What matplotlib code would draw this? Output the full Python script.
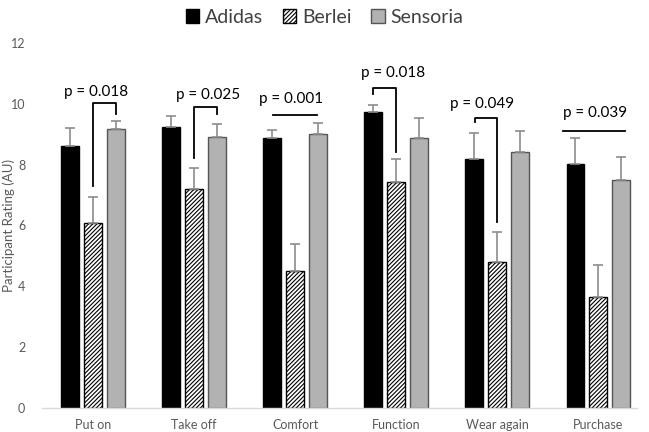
import matplotlib
matplotlib.use("Agg")
import matplotlib.pyplot as plt
import numpy as np

plt.rcParams['font.family'] = ['Lato', 'DejaVu Sans']
plt.rcParams['hatch.linewidth'] = 0.8

categories = ["Put on", "Take off", "Comfort", "Function", "Wear again", "Purchase"]
series = ["Adidas", "Berlei", "Sensoria"]
adidas = [8.62, 9.25, 8.88, 9.74, 8.20, 8.03]
adidas_err = [0.59, 0.35, 0.27, 0.23, 0.85, 0.85]
berlei = [6.07, 7.20, 4.52, 7.44, 4.79, 3.64]
berlei_err = [0.88, 0.70, 0.86, 0.76, 0.98, 1.05]
sensoria = [9.18, 8.92, 9.02, 8.88, 8.43, 7.50]
sensoria_err = [0.26, 0.42, 0.36, 0.66, 0.68, 0.76]

p_labels = ["p = 0.018", "p = 0.025", "p = 0.001", "p = 0.018", "p = 0.049", "p = 0.039"]

fig = plt.figure(figsize=(6.49, 4.32), dpi=100)
ax = fig.add_axes([42/649, 1-408/432, (637-42)/649, (408-43)/432])

x = np.arange(len(categories))
w = 0.178
off = 0.223
err_kw = dict(ecolor='#8c8c8c', elinewidth=1.2, capsize=3.5, capthick=1.2)

ax.bar(x - off, adidas, w, color='black', edgecolor='black', linewidth=1,
       yerr=[np.zeros(6), adidas_err], error_kw=err_kw, label="Adidas", zorder=2)
ax.bar(x, berlei, w, color='white', edgecolor='black', linewidth=1, hatch='////////',
       yerr=[np.zeros(6), berlei_err], error_kw=err_kw, label="Berlei", zorder=2)
ax.bar(x + off, sensoria, w, color='#b2b2b2', edgecolor='#555555', linewidth=1,
       yerr=[np.zeros(6), sensoria_err], error_kw=err_kw, label="Sensoria", zorder=2)

ax.set_xlim(-0.505, 5.386)
ax.set_ylim(0, 12)
ax.set_yticks([0, 2, 4, 6, 8, 10, 12])
ax.set_xticks(x)
ax.set_xticklabels(categories)
ax.tick_params(axis='both', length=0, colors='#595959', labelsize=9)
ax.tick_params(axis='x', pad=8)
ax.tick_params(axis='y', pad=12)
for s in ['top', 'right', 'left']:
    ax.spines[s].set_visible(False)
ax.spines['bottom'].set_color('#d9d9d9')
ax.spines['bottom'].set_linewidth(1)
ax.set_ylabel("Participant Rating (AU)", color='#595959', fontsize=9.5)
ax.yaxis.set_label_coords(-0.046, 0.5)

lk = dict(color='black', lw=1.3, zorder=3)
# Put on: Berlei - Sensoria bracket
i = 0
ax.plot([i, i, i + off, i + off], [7.3, 10.03, 10.03, 9.67], **lk)
ax.text(i + 0.03, 10.4, p_labels[0], ha='center', va='center', fontsize=11)
# Take off
i = 1
ax.plot([i, i, i + off, i + off], [8.23, 9.9, 9.9, 9.67], **lk)
ax.text(i + 0.14, 10.3, p_labels[1], ha='center', va='center', fontsize=11)
# Comfort: line
i = 2
ax.plot([i - 0.22, i + 0.22], [9.64, 9.64], **lk)
ax.text(i - 0.04, 10.15, p_labels[2], ha='center', va='center', fontsize=11)
# Function: Adidas - Berlei
i = 3
ax.plot([i - 0.23, i - 0.23, i, i], [10.33, 10.52, 10.52, 8.43], **lk)
ax.text(i - 0.03, 11.0, p_labels[3], ha='center', va='center', fontsize=11)
# Wear again
i = 4
ax.plot([i - 0.22, i - 0.22, i, i], [9.41, 9.54, 9.54, 6.1], **lk)
ax.text(i - 0.15, 10.0, p_labels[4], ha='center', va='center', fontsize=11)
# Purchase: line
i = 5
ax.plot([i - 0.35, i + 0.27], [9.11, 9.11], **lk)
ax.text(i - 0.03, 9.7, p_labels[5], ha='center', va='center', fontsize=11)

fig.legend(loc='upper center', bbox_to_anchor=(0.5, 1.02), ncol=3, frameon=False,
           fontsize=14, handlelength=0.7, handleheight=0.7, handletextpad=0.3,
           columnspacing=1.0, labelcolor='#404040')

fig.savefig("out.png", dpi=100)
